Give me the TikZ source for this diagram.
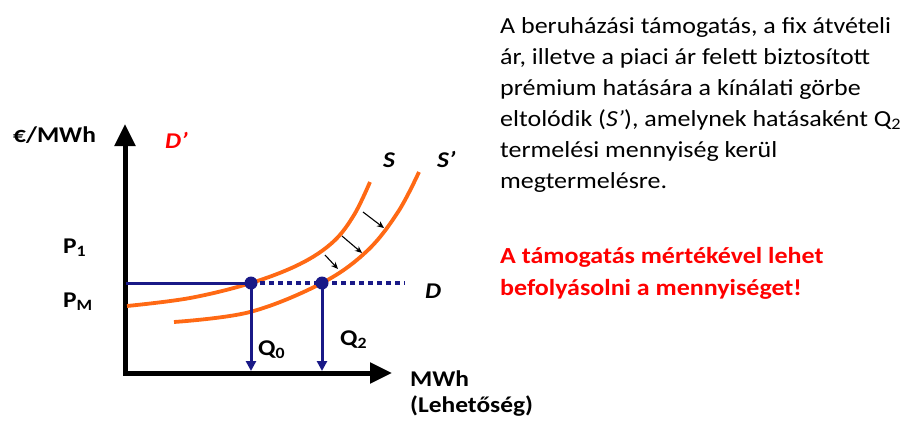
\documentclass[tikz,border=0pt]{standalone}
\usepackage{fontspec}
\setmainfont{Carlito}[FakeStretch=1.13]
\usetikzlibrary{arrows.meta}
\definecolor{curveor}{RGB}{255,105,20}
\definecolor{navyb}{RGB}{25,25,135}
\definecolor{redtxt}{RGB}{255,0,0}
\begin{document}
\begin{tikzpicture}[x=1pt,y=-1pt,
  lbl/.style={anchor=base west,inner sep=0pt,font=\fontsize{22.5}{26}\selectfont\bfseries},
  txt/.style={anchor=base west,inner sep=0pt,font=\fontsize{23}{26}\selectfont},
  rtxt/.style={txt,font=\fontsize{23}{26}\selectfont\bfseries,text=redtxt},
  supply/.style={curveor,line width=3.8pt},
  qline/.style={navyb,line width=3pt},
  dotb/.style={circle,fill=navyb,inner sep=0pt,minimum size=13pt},
  shiftarr/.style={black,line width=1.1pt,-{Stealth[length=7pt,width=6pt]}}]
\useasboundingbox (0,0) rectangle (903,421);
% axes
\coordinate (ytop) at (125,124);
\coordinate (orig) at (125,373);
\coordinate (xend) at (392,373);
\draw[line width=5pt,line join=miter,{Triangle[length=22pt,width=20pt]}-{Triangle[length=22pt,width=20pt]}] (ytop) -- (orig) -- (xend);
% supply curves
\draw[supply] plot[smooth,tension=0.6] coordinates {(127,306) (190,298) (251,283) (300,264) (333,242) (354,215) (370,182)};
\draw[supply] plot[smooth,tension=0.6] coordinates {(174,322) (250,312) (322,283) (367,251) (398,212) (419,172)};
% shift arrows
\coordinate (a1s) at (363,212); \coordinate (a1e) at (384,228);
\coordinate (a2s) at (342,236); \coordinate (a2e) at (362,253);
\coordinate (a3s) at (325,255); \coordinate (a3e) at (338,269);
\draw[shiftarr] (a1s) -- (a1e);
\draw[shiftarr] (a2s) -- (a2e);
\draw[shiftarr] (a3s) -- (a3e);
% price lines and points
\coordinate (pm) at (126,283);
\node[dotb] (e0) at (251,283) {};
\node[dotb] (e2) at (322,283) {};
\coordinate (dend) at (405,283);
\draw[qline] (pm) -- (e0.center);
\draw[navyb,line width=4pt,dash pattern=on 5pt off 4pt] (e0.center) -- (dend);
\coordinate (q0) at (251,371);
\coordinate (q2) at (322,371);
\draw[qline,-{Triangle[length=10pt,width=10pt]}] (e0.center) -- (q0);
\draw[qline,-{Triangle[length=10pt,width=10pt]}] (e2.center) -- (q2);
% labels
\node[lbl] (ylab) at (13,142) {€/MWh};
\node[lbl,text=redtxt] (dprime) at (165,148) {\itshape D’};
\node[lbl] (slab) at (383,167) {\itshape S};
\node[lbl] (sprime) at (437,167) {\itshape S’};
\node[lbl] (p1) at (63,253) {P\textsubscript{1}};
\node[lbl] (pmlab) at (63,307) {P\textsubscript{M}};
\node[lbl] (dlab) at (425,298) {\itshape D};
\node[lbl] (q0lab) at (258,355) {Q\textsubscript{0}};
\node[lbl] (q2lab) at (340,345) {Q\textsubscript{2}};
\node[lbl] (xlab) at (410,386) {MWh};
\node[lbl] (xlab2) at (410,412) {(Lehetőség)};
% text block
\node[txt] (t1) at (500,33) {A beruházási támogatás, a fix átvételi};
\node[txt] (t2) at (500,64) {ár, illetve a piaci ár felett biztosított};
\node[txt] (t3) at (500,95) {prémium hatására a kínálati görbe};
\node[txt] (t4) at (500,126) {eltolódik (\textit{S’}), amelynek hatásaként Q\textsubscript{2}};
\node[txt] (t5) at (500,157) {termelési mennyiség kerül};
\node[txt] (t6) at (500,188) {megtermelésre.};
\node[rtxt] (r1) at (500,263) {A támogatás mértékével lehet};
\node[rtxt] (r2) at (500,295) {befolyásolni a mennyiséget!};
\end{tikzpicture}
\end{document}
